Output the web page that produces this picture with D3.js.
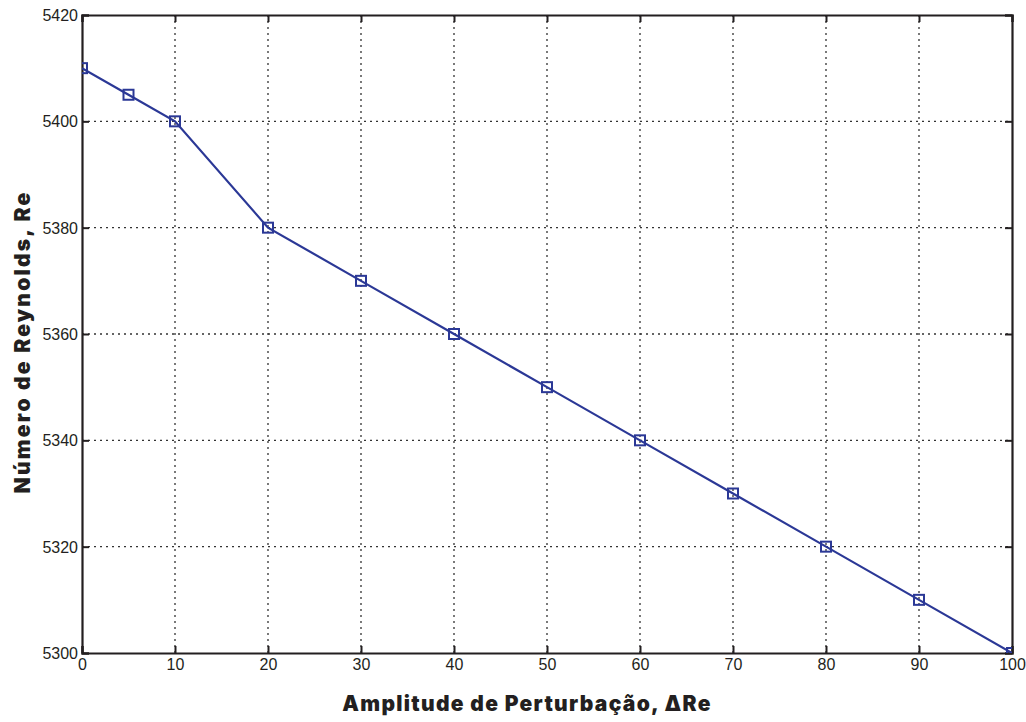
<!DOCTYPE html>
<html>
<head>
<meta charset="utf-8">
<script src="https://cdn.jsdelivr.net/npm/d3@7"></script>
<style>
  body { margin: 0; background: #fff; }
  .tick text { font-family: "Liberation Sans", Arial, sans-serif; font-size: 16px; fill: #231f20; }
  .lbl { font-family: Inter, "DejaVu Sans", sans-serif; font-weight: 900; font-size: 21px; fill: #231f20; }
</style>
</head>
<body>
<svg></svg>
<script>
// data
const amplitude = [0, 5, 10, 20, 30, 40, 50, 60, 70, 80, 90, 100];
const reynolds = [5410, 5405, 5400, 5380, 5370, 5360, 5350, 5340, 5330, 5320, 5310, 5300];
const xTicks = [0, 10, 20, 30, 40, 50, 60, 70, 80, 90, 100];
const yTicks = [5300, 5320, 5340, 5360, 5380, 5400, 5420];

const W = 1026, H = 722;
const margin = { top: 15, right: 14, bottom: 69, left: 82 };
const width = W - margin.left - margin.right;
const height = H - margin.top - margin.bottom;

const svg = d3.select("svg").attr("width", W).attr("height", H);
const g = svg.append("g").attr("transform", "translate(" + margin.left + "," + margin.top + ")");

const x = d3.scaleLinear().domain([0, 100]).range([0, width]);
const y = d3.scaleLinear().domain([5300, 5420]).range([height, 0]);

// grid
const grid = g.append("g").attr("stroke", "#333").attr("stroke-width", 1.3).attr("stroke-dasharray", "2,4");
grid.selectAll("line.vx").data(xTicks.slice(1, -1)).enter().append("line")
  .attr("x1", d => x(d)).attr("x2", d => x(d)).attr("y1", 0).attr("y2", height);
grid.selectAll("line.hy").data(yTicks.slice(1, -1)).enter().append("line")
  .attr("x1", 0).attr("x2", width).attr("y1", d => y(d)).attr("y2", d => y(d));

// axes (ticks pointing inward, on all four sides)
const tk = 7;
const axB = g.append("g").attr("transform", "translate(0," + height + ")")
  .call(d3.axisBottom(x).tickValues(xTicks).tickSize(-tk).tickPadding(6));
const axL = g.append("g")
  .call(d3.axisLeft(y).tickValues(yTicks).tickSize(-tk).tickPadding(4).tickFormat(d3.format("d")));
const axT = g.append("g")
  .call(d3.axisTop(x).tickValues(xTicks).tickSize(-tk).tickFormat(""));
const axR = g.append("g").attr("transform", "translate(" + width + ",0)")
  .call(d3.axisRight(y).tickValues(yTicks).tickSize(-tk).tickFormat(""));
[axB, axL, axT, axR].forEach(a => {
  a.select(".domain").attr("stroke", "#231f20").attr("stroke-width", 2.2);
  a.selectAll(".tick line").attr("stroke", "#231f20").attr("stroke-width", 2);
});
axL.selectAll(".tick text").attr("dy", "0.35em");

// series
g.append("clipPath").attr("id", "clip").append("rect").attr("width", width).attr("height", height);
const data = amplitude.map((a, i) => ({ a: a, r: reynolds[i] }));
const plot = g.append("g").attr("clip-path", "url(#clip)");
plot.append("path").datum(data)
  .attr("fill", "none").attr("stroke", "#2b3896").attr("stroke-width", 2.2)
  .attr("d", d3.line().x(d => x(d.a)).y(d => y(d.r)));
const s = 10;
plot.selectAll("rect.m").data(data).enter().append("rect")
  .attr("x", d => x(d.a) - s / 2).attr("y", d => y(d.r) - s / 2)
  .attr("width", s).attr("height", s)
  .attr("fill", "none").attr("stroke", "#2b3896").attr("stroke-width", 2);

// labels
svg.append("text").attr("class", "lbl")
  .attr("x", 527).attr("y", 711)
  .attr("text-anchor", "middle").style("letter-spacing", "1.3px")
  .text("Amplitude de Perturbação,  ΔRe");
svg.append("text").attr("class", "lbl")
  .attr("transform", "translate(30,342) rotate(-90)")
  .attr("text-anchor", "middle").style("letter-spacing", "2.2px")
  .text("Número de Reynolds, Re");
</script>
</body>
</html>
